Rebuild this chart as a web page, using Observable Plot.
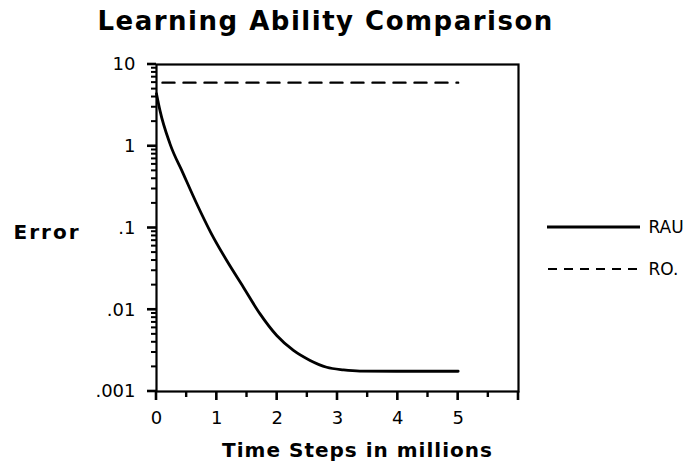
<!DOCTYPE html>
<html>
<head>
<meta charset="utf-8">
<script src="https://cdn.jsdelivr.net/npm/d3@7"></script>
<script src="https://cdn.jsdelivr.net/npm/@observablehq/plot@0.6"></script>
<style>
  html, body { margin: 0; padding: 0; background: #fff; }
  #chart { width: 691px; height: 464px; }
</style>
</head>
<body>
<div id="chart"></div>
<script>
// ---- data ----
const title = "Learning Ability Comparison";
const xLabel = "Time Steps in millions";
const yLabel = "Error";
const seriesNames = ["RAU", "RO."];

const rauX = [0, 0.058, 0.224, 0.444, 0.667, 0.9, 1.164, 1.44, 1.716, 1.993, 2.27, 2.546, 2.82, 3.1, 3.37, 4.0, 5.0];
const rauY = [4.4, 2.73, 1.07, 0.46, 0.198, 0.088, 0.040, 0.0189, 0.0089, 0.00484, 0.00318, 0.0024, 0.00198, 0.00184, 0.00178, 0.00177, 0.00177];

const roX = [0, 5];
const roY = [6, 6];

const xMajorTicks = [0, 1, 2, 3, 4, 5, 6];
const xMajorLabels = ["0", "1", "2", "3", "4", "5", ""];
const xMinorTicks = [0.5, 1.5, 2.5, 3.5, 4.5, 5.5];
const yMajorTicks = [10, 1, 0.1, 0.01, 0.001];
const yMajorLabels = ["10", "1", ".1", ".01", ".001"];
const yMinorTicks = [
  0.002, 0.003, 0.004, 0.005, 0.006, 0.007, 0.008, 0.009,
  0.02, 0.03, 0.04, 0.05, 0.06, 0.07, 0.08, 0.09,
  0.2, 0.3, 0.4, 0.5, 0.6, 0.7, 0.8, 0.9,
  2, 3, 4, 5, 6, 7, 8, 9
];

// ---- tables ----
const rau = rauX.map((x, i) => ({x, y: rauY[i]}));
const ro = roX.map((x, i) => ({x, y: roY[i]}));

const bold = {fontFamily: "DejaVu Sans", fontWeight: "bold"};

const plot = Plot.plot({
  width: 691,
  height: 464,
  marginTop: 64,
  marginBottom: 73,
  marginLeft: 156,
  marginRight: 173,
  style: {fontFamily: "DejaVu Sans", fontSize: "17px", color: "#000", background: "#fff", overflow: "visible"},
  x: {domain: [0, 6]},
  y: {type: "log", domain: [0.001, 10]},
  marks: [
    Plot.axisX(xMajorTicks, {tickSize: 0, tickPadding: 20, fontSize: 18, tickFormat: d => xMajorLabels[xMajorTicks.indexOf(d)], label: null}),
    Plot.axisY(yMajorTicks, {tickSize: 0, tickPadding: 21, fontSize: 18, tickFormat: d => yMajorLabels[yMajorTicks.indexOf(d)], label: null}),
    Plot.frame({stroke: "#000", strokeWidth: 2.2}),
    Plot.line(rau, {x: "x", y: "y", stroke: "#000", strokeWidth: 2.8, curve: "monotone-x"}),
    Plot.line(ro, {x: "x", y: "y", stroke: "#000", strokeWidth: 2.4, strokeDasharray: "12,9", strokeDashoffset: -6}),
    Plot.text([title], {frameAnchor: "top-left", textAnchor: "start", lineAnchor: "bottom", dx: -59, dy: -35, fontSize: 26, ...bold}),
    Plot.text([xLabel], {frameAnchor: "bottom", lineAnchor: "bottom", dx: 20, dy: 65, fontSize: 20, ...bold}),
    Plot.text([yLabel], {frameAnchor: "left", textAnchor: "start", lineAnchor: "middle", dx: -143, dy: 5, fontSize: 20, ...bold}),
    Plot.text([seriesNames[0]], {frameAnchor: "top-right", textAnchor: "start", lineAnchor: "middle", dx: 130, dy: 163, fontSize: 17}),
    Plot.text([seriesNames[1]], {frameAnchor: "top-right", textAnchor: "start", lineAnchor: "middle", dx: 130, dy: 205, fontSize: 17})
  ]
});

// letter spacing for bold labels
d3.select(plot).selectAll("text").each(function () {
  const t = this.textContent;
  if (t === title) this.setAttribute("letter-spacing", "1.5");
  if (t === xLabel) this.setAttribute("letter-spacing", "1");
  if (t === yLabel) this.setAttribute("letter-spacing", "2");
});

const svg = d3.select(plot);

// tick marks, positioned through Plot's own scales
const sx = plot.scale("x"), sy = plot.scale("y");
const x0 = sx.apply(0), yBase = sy.apply(0.001);
const ticks = svg.append("g").attr("stroke", "#000").attr("stroke-linecap", "butt");
for (const t of xMajorTicks) {
  const px = sx.apply(t);
  ticks.append("line").attr("x1", px).attr("x2", px).attr("y1", yBase).attr("y2", yBase + 9).attr("stroke-width", 2.6);
}
for (const t of xMinorTicks) {
  const px = sx.apply(t);
  ticks.append("line").attr("x1", px).attr("x2", px).attr("y1", yBase).attr("y2", yBase + 6).attr("stroke-width", 2.4);
}
for (const t of yMajorTicks) {
  const py = sy.apply(t);
  ticks.append("line").attr("x1", x0 - 9).attr("x2", x0).attr("y1", py).attr("y2", py).attr("stroke-width", 2.6);
}
for (const t of yMinorTicks) {
  const py = sy.apply(t);
  ticks.append("line").attr("x1", x0 - 5).attr("x2", x0).attr("y1", py).attr("y2", py).attr("stroke-width", 2);
}

// legend swatches
const leg = svg.append("g").attr("stroke", "#000");
leg.append("line").attr("x1", 547).attr("x2", 640).attr("y1", 227).attr("y2", 227).attr("stroke-width", 2.8);
leg.append("line").attr("x1", 548).attr("x2", 642).attr("y1", 269).attr("y2", 269).attr("stroke-width", 2.2).attr("stroke-dasharray", "9,7");

document.getElementById("chart").appendChild(plot);
</script>
</body>
</html>
